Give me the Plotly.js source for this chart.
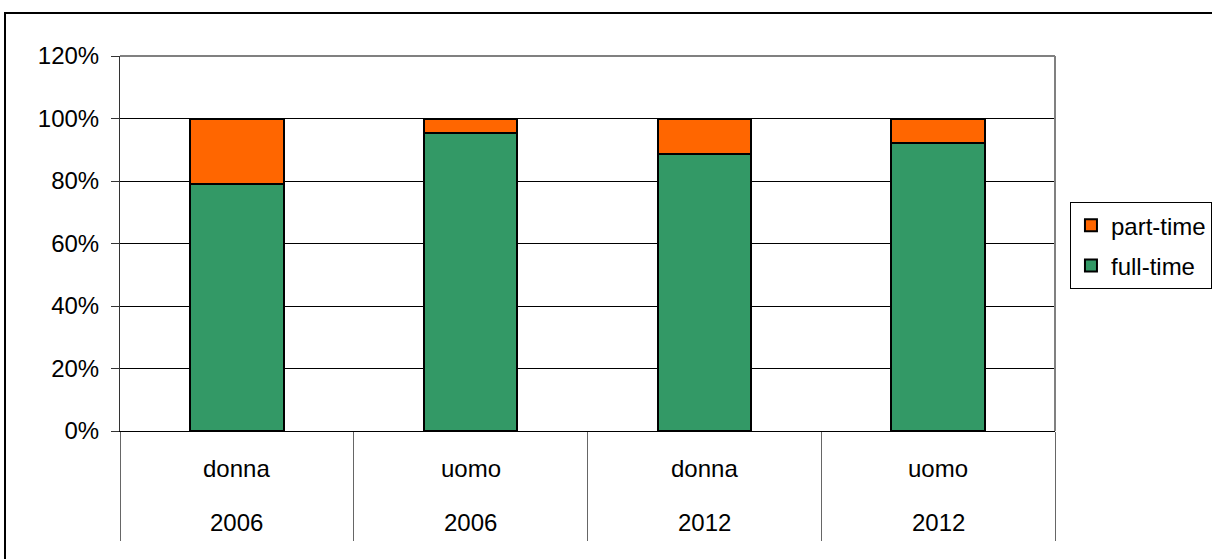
<!DOCTYPE html>
<html>
<head>
<meta charset="utf-8">
<script src="https://cdn.plot.ly/plotly-3.0.1.min.js"></script>
<style>
html,body{margin:0;padding:0;overflow:hidden;background:#fff;}
#frame{position:absolute;left:4px;top:12px;width:1300px;height:700px;border:2px solid #000;box-sizing:border-box;pointer-events:none;z-index:10;}
#chart{position:absolute;left:0;top:0;width:1240px;height:559px;}
</style>
</head>
<body>
<div id="chart"></div>
<div id="frame"></div>
<script>
var genders = ["donna", "uomo", "donna", "uomo"];
var years = ["2006", "2006", "2012", "2012"];
var fullTime = [0.79, 0.955, 0.886, 0.923];
var partTime = [0.21, 0.045, 0.114, 0.077];

var cats = genders.map(function(g, i){ return g + " " + years[i]; });
var FONT = "Liberation Sans, Arial, sans-serif";
var FS = 24;

var traces = [
  {type:"bar", name:"full-time", legendgroup:"a", legendrank:2, x:cats, y:fullTime,
   marker:{color:"#339966", line:{color:"#000", width:2}}, width:0.4},
  {type:"bar", name:"part-time", legendgroup:"b", legendrank:1, x:cats, y:partTime,
   marker:{color:"#FF6600", line:{color:"#000", width:2}}, width:0.4}
];

var annotations = [];
cats.forEach(function(c, i){
  annotations.push({x:c, xref:"x", y:-0.101, yref:"paper", text:genders[i], showarrow:false,
    yanchor:"middle", font:{family:FONT, size:FS, color:"#000"}});
  annotations.push({x:c, xref:"x", y:-0.243, yref:"paper", text:years[i], showarrow:false,
    yanchor:"middle", font:{family:FONT, size:FS, color:"#000"}});
});

var layout = {
  width:1240, height:559,
  margin:{l:120, r:185, t:56, b:128},
  paper_bgcolor:"#fff", plot_bgcolor:"#fff",
  barmode:"stack",
  font:{family:FONT, size:FS, color:"#000"},
  showlegend:true,
  legend:{x:1.016, y:0.61, xanchor:"left", yanchor:"top", traceorder:"grouped",
    bordercolor:"#000", borderwidth:1, bgcolor:"#fff",
    font:{family:FONT, size:FS, color:"#000"}, itemwidth:30, tracegroupgap:6},
  xaxis:{type:"category", range:[-0.5, 3.5], showticklabels:false,
    tickson:"boundaries", ticks:"outside", ticklen:109, tickcolor:"#666", tickwidth:1,
    showgrid:false, showline:true, linecolor:"#000", linewidth:1, zeroline:false},
  yaxis:{range:[0, 1.2], dtick:0.2, tickformat:".0%", ticks:"outside", ticklen:8,
    tickcolor:"#333", showgrid:true, gridcolor:"#000", gridwidth:1,
    showline:true, linecolor:"#333", linewidth:1, zeroline:false,
    ticklabelstandoff:7, tickfont:{family:FONT, size:FS, color:"#000"}},
  shapes:[
    {type:"line", xref:"paper", yref:"paper", x0:0, x1:1, y0:1, y1:1, line:{color:"#808080", width:2}},
    {type:"line", xref:"paper", yref:"paper", x0:1, x1:1, y0:0, y1:1, line:{color:"#808080", width:2}}
  ],
  annotations:annotations
};

Plotly.newPlot("chart", traces, layout, {displayModeBar:false, staticPlot:true});
</script>
</body>
</html>
